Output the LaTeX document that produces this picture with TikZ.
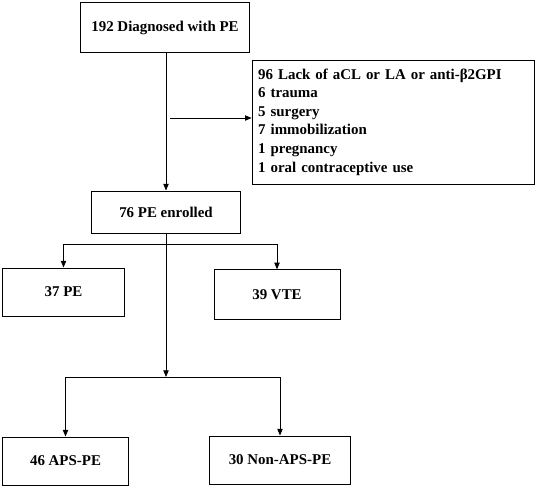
\documentclass[tikz,border=0pt]{standalone}
\usepackage{fontspec}
\setmainfont{Liberation Serif}
\usetikzlibrary{arrows.meta}

\tikzset{
  flowbox/.style={draw, line width=0.75pt, inner sep=0pt, align=center, font=\fontsize{11.2}{13.9}\selectfont\bfseries},
  arr/.style={line width=0.6pt, -{Triangle[length=5pt,width=4pt]}}
}

\begin{document}
\begin{tikzpicture}[x=0.75pt,y=0.75pt,yscale=-1,xscale=1]
        \useasboundingbox (0,0) rectangle (536,487);

        % Boxes
        \node (diag) [flowbox, minimum width=127pt, minimum height=38pt] at (165,27.5) {192 Diagnosed with PE};
        \node (excl) [flowbox, minimum width=212pt, minimum height=93pt, align=left, text width=203pt] at (393.5,122) {96 Lack of aCL or LA or anti-β2GPI\\6 trauma\\5 surgery\\7 immobilization\\1 pregnancy\\1 oral contraceptive use};
        \node (enrol) [flowbox, minimum width=112pt, minimum height=31.5pt] at (166,212) {76 PE enrolled};
        \node (pe) [flowbox, minimum width=92pt, minimum height=36pt] at (63.5,292) {37 PE};
        \node (vte) [flowbox, minimum width=94.5pt, minimum height=37pt] at (277,294.5) {39 VTE};
        \node (aps) [flowbox, minimum width=94pt, minimum height=36pt] at (65.5,461) {46 APS-PE};
        \node (nonaps) [flowbox, minimum width=106pt, minimum height=36pt] at (280,460) {30 Non-APS-PE};

        % Branch points
        \coordinate (ex) at (170,118);
        \coordinate (split1) at (166,244);
        \coordinate (split2) at (166,377);

        % Connectors
        \draw [arr] (diag.south -| enrol) -- (enrol.north);
        \draw [arr] (ex) -- (ex -| excl.west);
        \draw [arr] (split1) -| (pe.north);
        \draw [arr] (split1) -| (vte.north);
        \draw [arr] (enrol.south) -- (split2);
        \draw [arr] (split2) -| (aps.north);
        \draw [arr] (split2) -| (nonaps.north);

\end{tikzpicture}
\end{document}
